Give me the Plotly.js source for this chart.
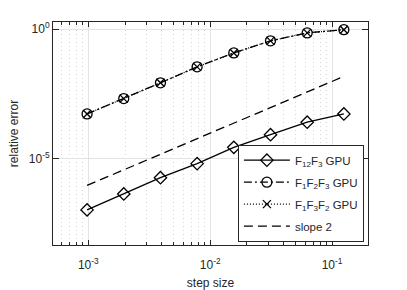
<!DOCTYPE html>
<html><head><meta charset="utf-8">
<script src="https://cdn.plot.ly/plotly-3.0.1.min.js"></script>
<style>html,body{margin:0;padding:0;background:#fff;}#chart{width:407px;height:290px;}</style>
</head><body><div id="chart"></div>
<script>
const stepSize = [0.0009765625, 0.001953125, 0.00390625, 0.0078125, 0.015625, 0.03125, 0.0625, 0.125];
const errF12F3 = [1.1e-7, 4.5e-7, 1.9e-6, 6.6e-6, 2.8e-5, 8.6e-5, 2.6e-4, 5.4e-4];
const errF1F2F3 = [5.4e-4, 2.1e-3, 8.5e-3, 3.5e-2, 0.12, 0.35, 0.71, 0.94];
const errF1F3F2 = [5.4e-4, 2.1e-3, 8.5e-3, 3.5e-2, 0.12, 0.35, 0.71, 0.94];
const slope2 = [9.6e-7, 3.8e-6, 1.5e-5, 6.1e-5, 2.4e-4, 9.8e-4, 3.9e-3, 1.5e-2];
const seriesNames = ['F<sub>12</sub>F<sub>3</sub> GPU', 'F<sub>1</sub>F<sub>2</sub>F<sub>3</sub> GPU', 'F<sub>1</sub>F<sub>3</sub>F<sub>2</sub> GPU', 'slope 2'];
const xTickVals = [1e-3, 1e-2, 1e-1];
const xTickText = ['10<sup>-3</sup>', '10<sup>-2</sup>', '10<sup>-1</sup>'];
const yTickVals = [1e-5, 1];
const yTickText = ['10<sup>-5</sup>', '10<sup>0</sup>'];

const ink = '#262626';
const traces = [
  {x: stepSize, y: errF12F3, name: seriesNames[0], legendgroup: 'a', mode: 'lines+markers',
   line: {color: '#000', width: 1.3, dash: 'solid'},
   marker: {symbol: 'diamond-open', size: 9.5, color: '#000', line: {color: '#000', width: 1.3}}},
  {x: stepSize, y: errF1F2F3, name: seriesNames[1], legendgroup: 'b', mode: 'lines+markers',
   line: {color: '#000', width: 1.3, dash: '8px,3px,2px,3px'},
   marker: {symbol: 'circle-open', size: 10, color: '#000', line: {color: '#000', width: 1.3}}},
  {x: stepSize, y: errF1F3F2, name: seriesNames[2], legendgroup: 'c', mode: 'lines+markers',
   line: {color: '#000', width: 1.3, dash: '1px,2px'},
   marker: {symbol: 'x-thin-open', size: 8, color: '#000', line: {color: '#000', width: 1.3}}},
  {x: [stepSize[0], stepSize[stepSize.length-1]], y: [slope2[0], slope2[slope2.length-1]], name: seriesNames[3], legendgroup: 'd', mode: 'lines',
   line: {color: '#000', width: 1.3, dash: '9px,5px'}}
];

const layout = {
  width: 407, height: 290,
  margin: {l: 53, r: 39, t: 22, b: 45},
  paper_bgcolor: '#fff', plot_bgcolor: '#fff',
  font: {family: 'Liberation Sans, Arial, sans-serif', size: 12, color: ink},
  showlegend: true,
  xaxis: {
    type: 'log', range: [-3.29, -0.705], tickmode: 'array', tickvals: xTickVals, ticktext: xTickText,
    showline: true, linecolor: ink, linewidth: 1, mirror: 'ticks',
    ticks: 'inside', ticklen: 5, tickcolor: ink, ticklabelstandoff: 9, automargin: false,
    showgrid: true, gridcolor: '#e3e3e3', gridwidth: 1, zeroline: false,
    minor: {tickmode: 'linear', dtick: 'D1', ticks: 'inside', ticklen: 3, tickcolor: ink, showgrid: true, gridcolor: '#d6d6d6', griddash: '1px,3px', gridwidth: 1},
    tickfont: {size: 12, color: ink},
    title: {text: 'step size', font: {size: 12, color: ink}, standoff: 7}
  },
  yaxis: {
    type: 'log', range: [-8.31, 0.27], tickmode: 'array', tickvals: yTickVals, ticktext: yTickText,
    showline: true, linecolor: ink, linewidth: 1, mirror: 'ticks',
    ticks: 'inside', ticklen: 6, tickcolor: ink, automargin: false,
    showgrid: true, gridcolor: '#e3e3e3', gridwidth: 1, zeroline: false,
    tickfont: {size: 12, color: ink},
    title: {text: 'relative error', font: {size: 12, color: ink}, standoff: 7}
  },
  legend: {
    x: 0.987, y: 0.015, xanchor: 'right', yanchor: 'bottom',
    bgcolor: '#fff', bordercolor: ink, borderwidth: 1, itemwidth: 46,
    font: {size: 11.5, color: ink}, tracegroupgap: 3
  }
};
Plotly.newPlot('chart', traces, layout, {staticPlot: true, displayModeBar: false});
</script></body></html>
